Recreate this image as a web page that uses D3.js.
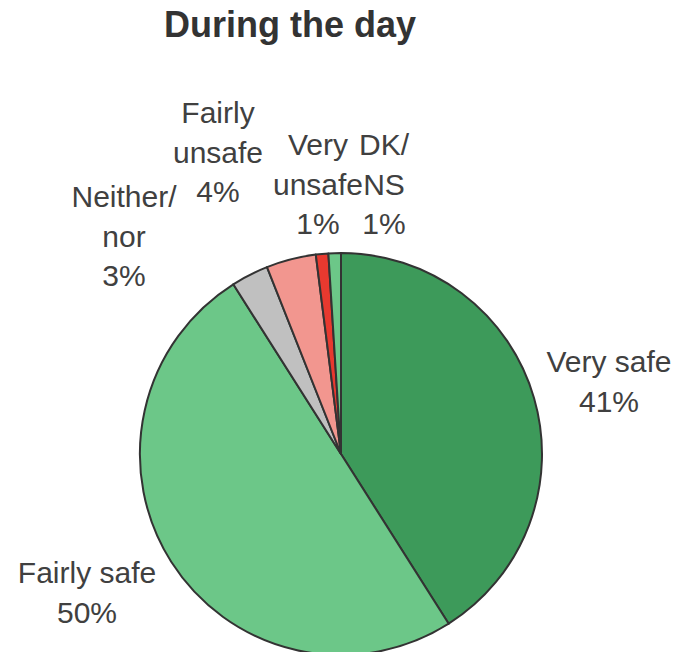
<!DOCTYPE html>
<html>
<head>
<meta charset="utf-8">
<script src="https://cdn.jsdelivr.net/npm/d3@7"></script>
<style>
  body { margin: 0; background: #fff; }
  svg { display: block; font-family: "Liberation Sans", Arial, sans-serif; }
</style>
</head>
<body>
<svg id="chart"></svg>
<script>
const categories = ['Very safe', 'Fairly safe', 'Neither/nor', 'Fairly unsafe', 'Very unsafe', 'DK/NS'];
const values = [41, 50, 3, 4, 1, 1];
const colors = ['#3d9a5a', '#6cc788', '#c0c0c0', '#f2968f', '#e8392f', '#6cc788'];
// label lines as Excel wraps them
const labelLines = [
  ['Very safe', '41%'],
  ['Fairly safe', '50%'],
  ['Neither/', 'nor', '3%'],
  ['Fairly', 'unsafe', '4%'],
  ['Very', 'unsafe', '1%'],
  ['DK/', 'NS', '1%']
];
// baseline of first line, centre x
const labelAt = [[609, 372], [87, 583], [124, 207], [218, 123], [318, 155], [384, 155]];

const W = 680, H = 652;
const cx = 341, cy = 454, R = 201;

const svg = d3.select('#chart').attr('width', W).attr('height', H);

svg.append('text')
  .attr('x', 290).attr('y', 37)
  .attr('text-anchor', 'middle')
  .attr('font-size', 36).attr('font-weight', 'bold')
  .attr('fill', '#333')
  .text('During the day');

const pie = d3.pie().sort(null).value(d => d)(values);
const arc = d3.arc().innerRadius(0).outerRadius(R);

svg.append('g')
  .attr('transform', `translate(${cx},${cy})`)
  .selectAll('path')
  .data(pie)
  .join('path')
  .attr('d', arc)
  .attr('fill', (d, i) => colors[i])
  .attr('stroke', '#333')
  .attr('stroke-width', 2)
  .attr('stroke-linejoin', 'round');

const labels = svg.append('g')
  .attr('font-size', 30).attr('fill', '#404040')
  .attr('text-anchor', 'middle');

labelLines.forEach((lines, i) => {
  const t = labels.append('text');
  lines.forEach((s, j) => {
    t.append('tspan')
      .attr('x', labelAt[i][0])
      .attr('y', labelAt[i][1] + j * 39.5)
      .text(s);
  });
});
</script>
</body>
</html>
